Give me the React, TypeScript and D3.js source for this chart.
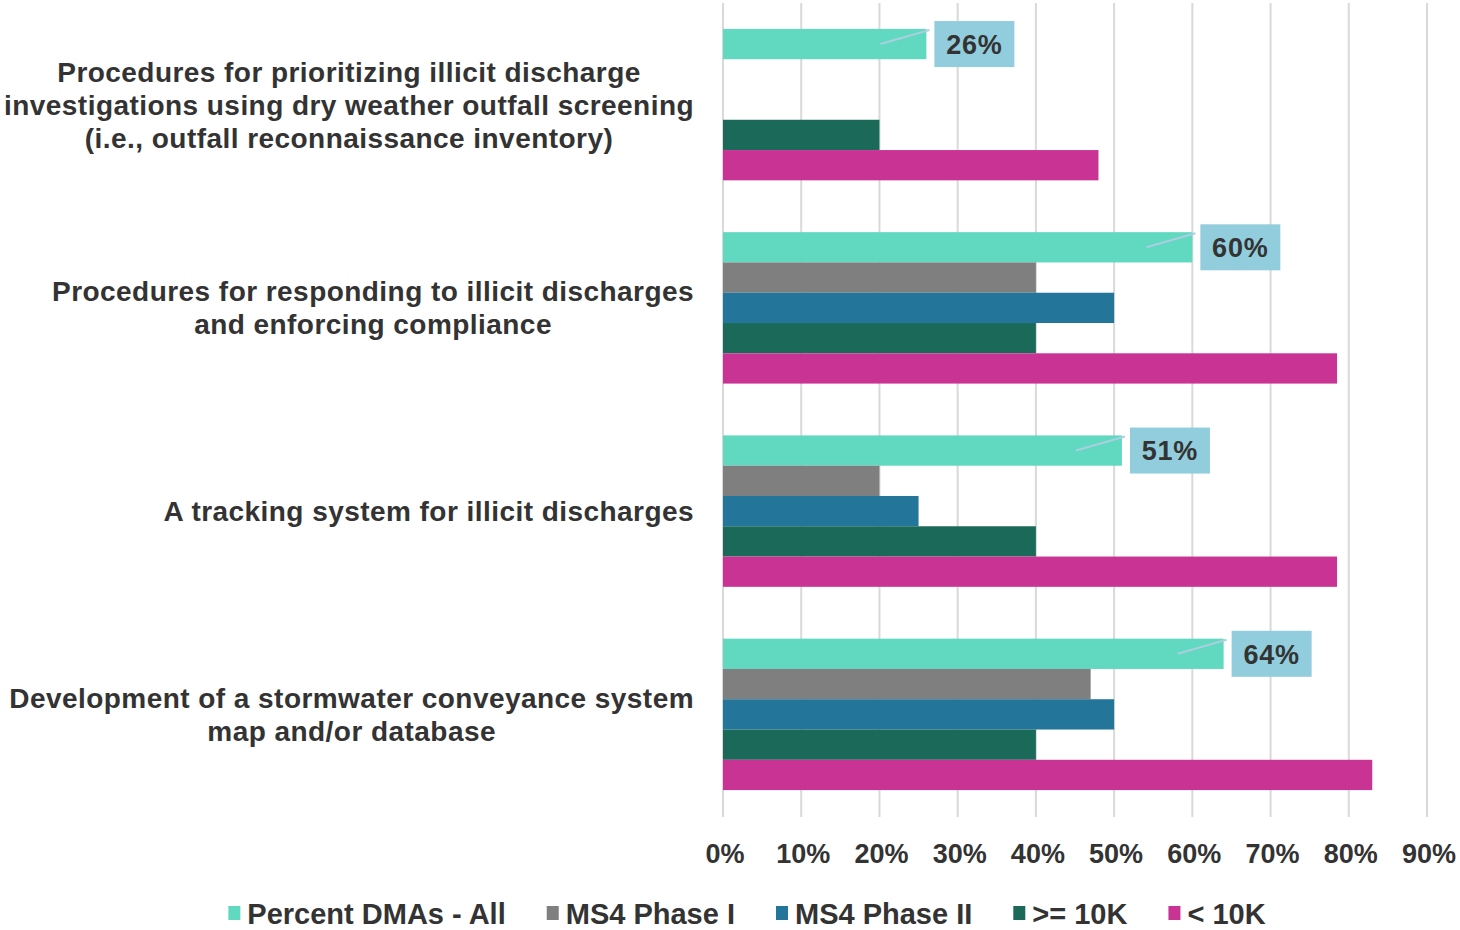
import React, { useEffect, useRef } from "react";
import * as d3 from "d3";

// Category labels, one entry per bar group (lines separated by "\n")
const categories = [
  "Procedures for prioritizing illicit discharge\ninvestigations using dry weather outfall screening\n(i.e., outfall reconnaissance inventory)",
  "Procedures for responding to illicit discharges\nand enforcing compliance",
  "A tracking system for illicit discharges",
  "Development of a stormwater conveyance system\nmap and/or database",
];

const seriesNames = ["Percent DMAs - All", "MS4 Phase I", "MS4 Phase II", ">= 10K", "< 10K"];
const seriesColors = ["#61D8C0", "#7F7F7F", "#23759A", "#1B6A59", "#C93494"];

// Percent values per series, in category order
const allDMAs = [26, 60, 51, 64];
const ms4PhaseI = [0, 40, 20, 47];
const ms4PhaseII = [0, 50, 25, 50];
const atLeast10K = [20, 40, 40, 40];
const under10K = [48, 78.5, 78.5, 83];
const seriesValues = [allDMAs, ms4PhaseI, ms4PhaseII, atLeast10K, under10K];

const xTicks = [0, 10, 20, 30, 40, 50, 60, 70, 80, 90];

const TEXT = "#333333";
const SANS = "'Liberation Sans', Arial, sans-serif";

export default function App() {
  const ref = useRef<SVGSVGElement>(null);

  useEffect(() => {
    const svg = d3.select(ref.current);
    svg.selectAll("*").remove();

    const x = d3.scaleLinear().domain([0, 90]).range([723, 1427]);
    const y0 = d3
      .scaleBand<string>()
      .domain(categories)
      .range([3, 816])
      .paddingInner(0.255)
      .paddingOuter(0.1275);
    const y1 = d3.scaleBand<string>().domain(seriesNames).range([0, y0.bandwidth()]);

    // vertical gridlines
    svg
      .append("g")
      .selectAll("line")
      .data(xTicks)
      .join("line")
      .attr("x1", (d) => x(d))
      .attr("x2", (d) => x(d))
      .attr("y1", 3)
      .attr("y2", 817)
      .attr("stroke", "#D9D9D9")
      .attr("stroke-width", 2);

    // bars
    const groups = svg
      .append("g")
      .selectAll("g")
      .data(categories)
      .join("g")
      .attr("transform", (c) => `translate(0,${y0(c)})`);

    groups
      .selectAll("rect")
      .data((c) => seriesNames.map((s, k) => ({ s, k, v: seriesValues[k][categories.indexOf(c)] })))
      .join("rect")
      .attr("x", x(0))
      .attr("y", (d) => y1(d.s)!)
      .attr("width", (d) => x(d.v) - x(0))
      .attr("height", y1.bandwidth())
      .attr("fill", (d) => seriesColors[d.k]);

    // value labels for the "All" series
    const lab = svg
      .append("g")
      .selectAll("g")
      .data(categories)
      .join("g")
      .attr("transform", (c) => {
        const v = allDMAs[categories.indexOf(c)];
        return `translate(${x(v)},${y0(c)! + y1(seriesNames[0])! + y1.bandwidth() / 2})`;
      });
    lab
      .append("line")
      .attr("x1", -46)
      .attr("y1", 0)
      .attr("x2", 3)
      .attr("y2", -14)
      .attr("stroke", "#A9CFE0")
      .attr("stroke-width", 2);
    lab
      .append("rect")
      .attr("x", 8)
      .attr("y", -23)
      .attr("width", 80)
      .attr("height", 46)
      .attr("fill", "#92CDDD");
    lab
      .append("text")
      .attr("x", 48)
      .attr("y", 0)
      .attr("dy", "0.36em")
      .attr("text-anchor", "middle")
      .attr("font-family", SANS)
      .attr("font-weight", "bold")
      .attr("font-size", 27)
      .attr("letter-spacing", 0.8)
      .attr("fill", TEXT)
      .text((c) => `${allDMAs[categories.indexOf(c)]}%`);

    // category labels: lines centred on each other, block right-aligned to the axis
    categories.forEach((c) => {
      const lines = c.split("\n");
      const g = svg.append("g");
      const cy = y0(c)! + y0.bandwidth() / 2;
      const lh = 33;
      const texts = lines.map((ln, i) =>
        g
          .append("text")
          .attr("x", 0)
          .attr("y", cy + (i - (lines.length - 1) / 2) * lh)
          .attr("dy", "0.36em")
          .attr("text-anchor", "middle")
          .attr("font-family", SANS)
          .attr("font-weight", "bold")
          .attr("font-size", 28)
          .attr("letter-spacing", 0.45)
          .attr("fill", TEXT)
          .text(ln)
      );
      const w = d3.max(texts, (t) => (t.node() as SVGTextElement).getComputedTextLength()) || 0;
      g.attr("transform", `translate(${694 - w / 2},0)`);
    });

    // x tick labels
    svg
      .append("g")
      .selectAll("text")
      .data(xTicks)
      .join("text")
      .attr("x", (d) => x(d) + 2)
      .attr("y", 853)
      .attr("dy", "0.36em")
      .attr("text-anchor", "middle")
      .attr("font-family", SANS)
      .attr("font-weight", "bold")
      .attr("font-size", 27)
      .attr("fill", TEXT)
      .text((d) => `${d}%`);

    // legend, laid out from measured label widths and centred
    const leg = svg.append("g");
    let cursor = 0;
    seriesNames.forEach((s, k) => {
      leg
        .append("rect")
        .attr("x", cursor)
        .attr("y", 906)
        .attr("width", 12)
        .attr("height", 14)
        .attr("fill", seriesColors[k]);
      const t = leg
        .append("text")
        .attr("x", cursor + 19)
        .attr("y", 914)
        .attr("dy", "0.36em")
        .attr("font-family", SANS)
        .attr("font-weight", "bold")
        .attr("font-size", 29)
        .attr("fill", TEXT)
        .text(s);
      cursor += 19 + (t.node() as SVGTextElement).getComputedTextLength() + 41;
    });
    const total = cursor - 41;
    leg.attr("transform", `translate(${747 - total / 2},0)`);
  }, []);

  return (
    <svg
      ref={ref}
      width={1460}
      height={930}
      style={{ position: "absolute", left: 0, top: 0, background: "#ffffff" }}
    />
  );
}
